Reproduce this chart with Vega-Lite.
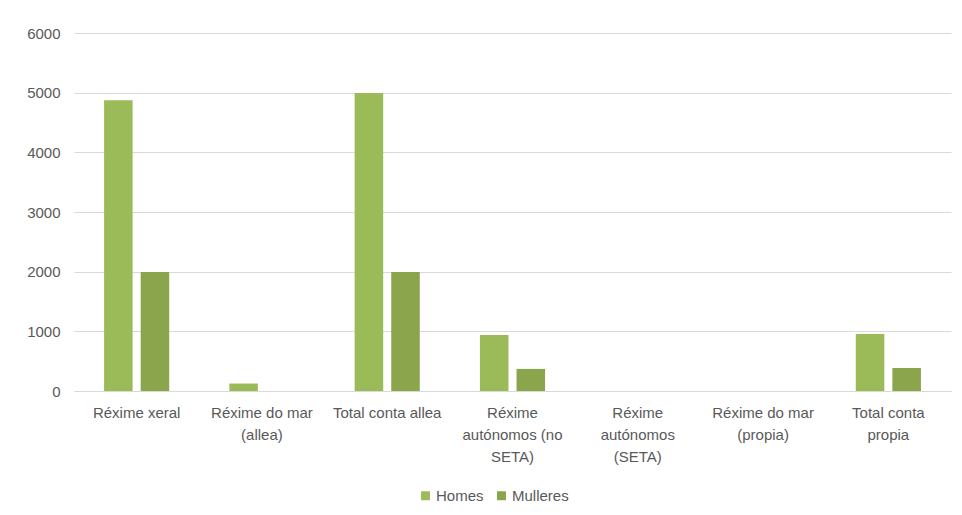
{
  "$schema": "https://vega.github.io/schema/vega-lite/v6.json",
  "width": 877,
  "height": 358,
  "autosize": {"type": "none"},
  "padding": {"left": 74, "top": 33, "right": 11, "bottom": 124},
  "background": "white",
  "data": {
    "values": [
      {"categoria": "Réxime xeral", "sexo": "Homes", "valor": 4875},
      {"categoria": "Réxime xeral", "sexo": "Mulleres", "valor": 1995},
      {"categoria": "Réxime do mar (allea)", "sexo": "Homes", "valor": 125},
      {"categoria": "Réxime do mar (allea)", "sexo": "Mulleres", "valor": 0},
      {"categoria": "Total conta allea", "sexo": "Homes", "valor": 4995},
      {"categoria": "Total conta allea", "sexo": "Mulleres", "valor": 1995},
      {"categoria": "Réxime autónomos (no SETA)", "sexo": "Homes", "valor": 940},
      {"categoria": "Réxime autónomos (no SETA)", "sexo": "Mulleres", "valor": 370},
      {"categoria": "Réxime autónomos (SETA)", "sexo": "Homes", "valor": 0},
      {"categoria": "Réxime autónomos (SETA)", "sexo": "Mulleres", "valor": 0},
      {"categoria": "Réxime do mar (propia)", "sexo": "Homes", "valor": 0},
      {"categoria": "Réxime do mar (propia)", "sexo": "Mulleres", "valor": 0},
      {"categoria": "Total conta propia", "sexo": "Homes", "valor": 955},
      {"categoria": "Total conta propia", "sexo": "Mulleres", "valor": 385}
    ]
  },
  "mark": {"type": "bar"},
  "encoding": {
    "x": {
      "field": "categoria",
      "type": "nominal",
      "sort": null,
      "scale": {"paddingInner": 0.48, "paddingOuter": 0.24},
      "axis": {
        "title": null,
        "labelAngle": 0,
        "ticks": false,
        "domainColor": "#D9D9D9",
        "labelColor": "#595959",
        "labelFontSize": 15,
        "labelLineHeight": 22,
        "labelPadding": 14,
        "labelLimit": 200,
        "labelBaseline": "top",
        "labelExpr": "datum.value == 'Réxime do mar (allea)' ? ['Réxime do mar', '(allea)'] : datum.value == 'Réxime autónomos (no SETA)' ? ['Réxime', 'autónomos (no', 'SETA)'] : datum.value == 'Réxime autónomos (SETA)' ? ['Réxime', 'autónomos', '(SETA)'] : datum.value == 'Réxime do mar (propia)' ? ['Réxime do mar', '(propia)'] : datum.value == 'Total conta propia' ? ['Total conta', 'propia'] : datum.value"
      }
    },
    "xOffset": {
      "field": "sexo",
      "type": "nominal",
      "scale": {"paddingInner": 0.22, "paddingOuter": 0}
    },
    "y": {
      "field": "valor",
      "type": "quantitative",
      "scale": {"domain": [0, 6000]},
      "axis": {
        "title": null,
        "values": [0, 1000, 2000, 3000, 4000, 5000, 6000],
        "format": "d",
        "labelOverlap": false,
        "domain": false,
        "ticks": false,
        "gridColor": "#D9D9D9",
        "labelColor": "#595959",
        "labelFontSize": 15,
        "labelPadding": 14
      }
    },
    "color": {
      "field": "sexo",
      "type": "nominal",
      "scale": {"domain": ["Homes", "Mulleres"], "range": ["#9BBB59", "#8AA54C"]},
      "legend": {
        "title": null,
        "orient": "none",
        "direction": "horizontal",
        "legendX": 344,
        "legendY": 455,
        "symbolType": "square",
        "symbolSize": 80,
        "symbolStrokeWidth": 0,
        "labelColor": "#595959",
        "labelFontSize": 15,
        "labelOffset": 3,
        "columnPadding": 10
      }
    }
  },
  "config": {
    "font": "Liberation Sans",
    "view": {"stroke": null}
  }
}
